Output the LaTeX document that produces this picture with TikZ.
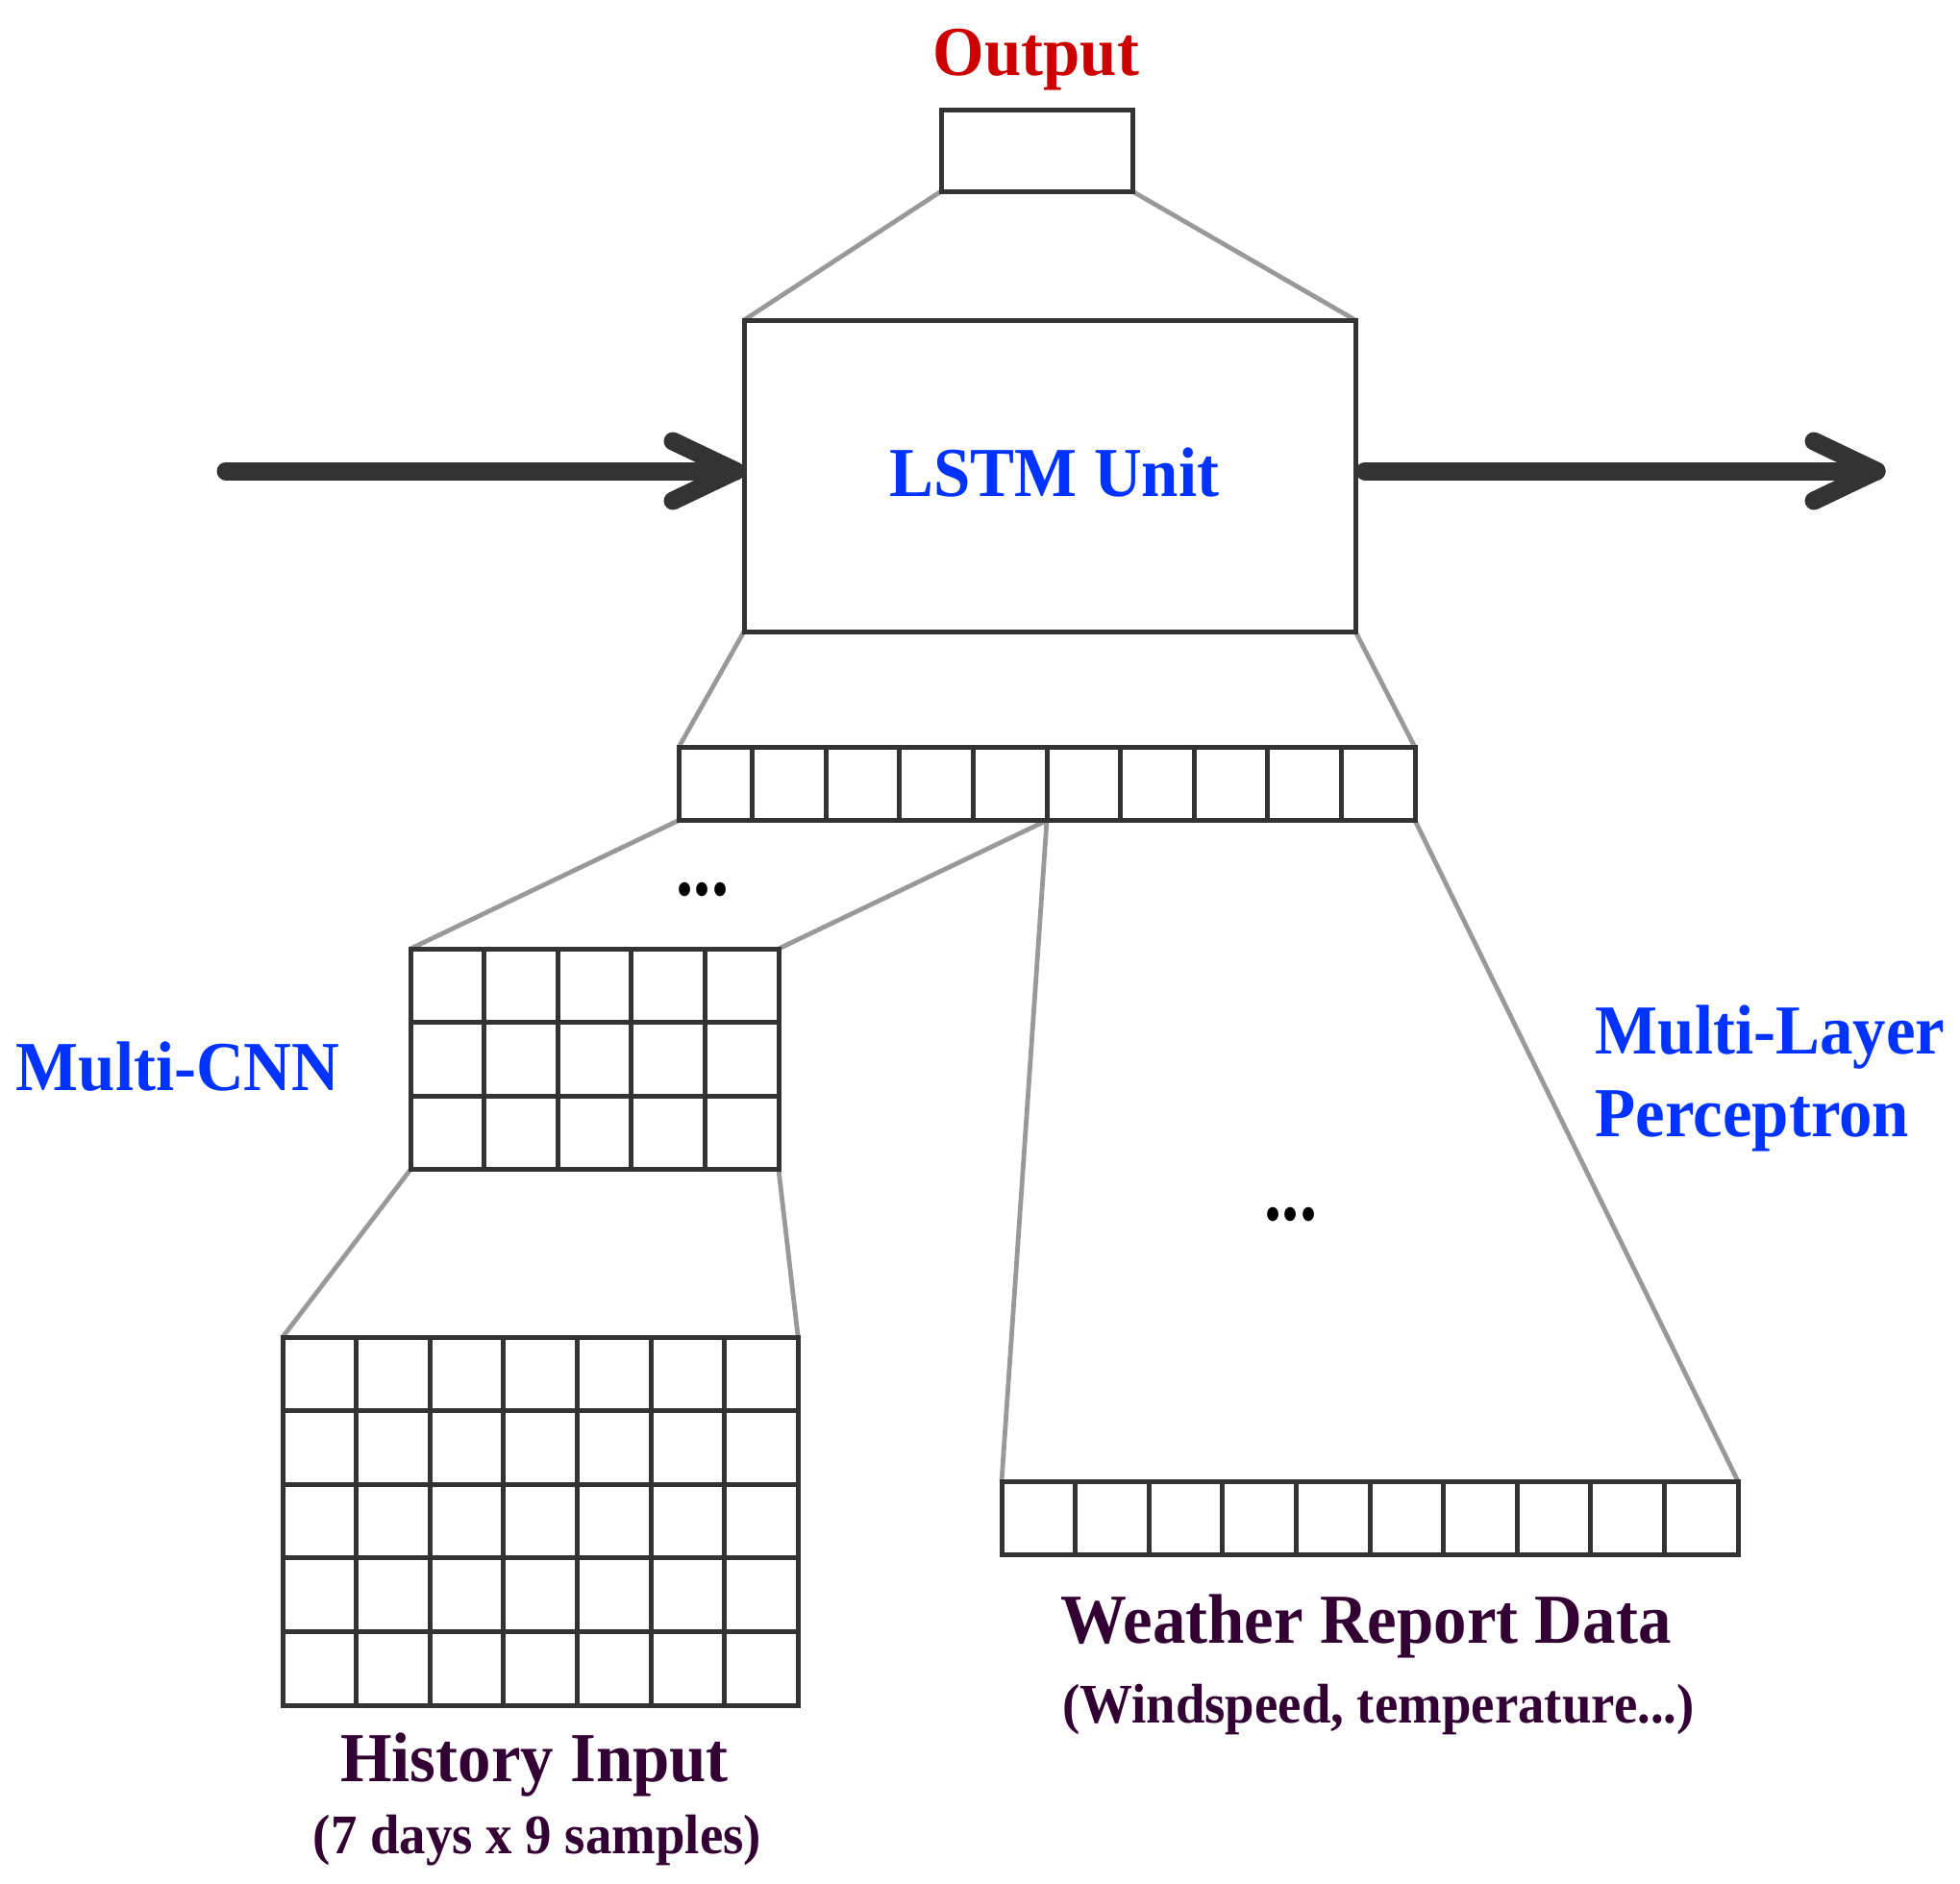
\documentclass[tikz,border=0pt]{standalone}
\usepackage{fontspec}
\setmainfont{Liberation Serif}
\usetikzlibrary{calc}
\definecolor{dk}{HTML}{333333}
\definecolor{gr}{HTML}{999999}
\definecolor{bl}{RGB}{0,51,255}
\definecolor{rd}{RGB}{204,0,0}
\definecolor{pu}{RGB}{51,0,51}
\begin{document}
\begin{tikzpicture}[x=1cm,y=1cm,
  boxline/.style={draw=dk,line width=0.05cm},
  boxnode/.style={boxline,rectangle,inner sep=0pt,outer sep=0pt},
  link/.style={draw=gr,line width=0.048cm},
  big/.style={font=\fontsize{19.6pt}{23pt}\selectfont\bfseries},
  small/.style={font=\fontsize{15.6pt}{18pt}\selectfont\bfseries},
  thickarrow/.style={draw=dk,line width=0.19cm,line cap=round,line join=round}]
\useasboundingbox (0,0) rectangle (20.39,-19.59);
\def\c{0.766}
% boxes (nodes)
\node[boxnode,minimum width=1.99cm,minimum height=0.85cm] (out) at (10.785,-1.565) {};
\node[boxnode,minimum width=6.36cm,minimum height=3.24cm] (lstm) at (10.92,-4.95) {};
\node[boxnode,minimum width=7.66cm,minimum height=0.76cm] (mid) at (10.89,-8.155) {};
\node[boxnode,minimum width=3.83cm,minimum height=2.298cm] (cnn) at (6.185,-11.019) {};
\node[boxnode,minimum width=5.362cm,minimum height=3.83cm] (hist) at (5.621,-15.825) {};
\node[boxnode,minimum width=7.66cm,minimum height=0.766cm] (wthr) at (14.25,-15.793) {};
% links
\draw[link] (out.south west) -- (lstm.north west);
\draw[link] (out.south east) -- (lstm.north east);
\draw[link] (lstm.south west) -- (mid.north west);
\draw[link] (lstm.south east) -- (mid.north east);
\draw[link] (mid.south west) -- (cnn.north west);
\draw[link] (mid.south) -- (cnn.north east);
\draw[link] (mid.south) -- (wthr.north west);
\draw[link] (mid.south east) -- (wthr.north east);
\draw[link] (cnn.south west) -- (hist.north west);
\draw[link] (cnn.south east) -- (hist.north east);
% redraw boxes on top of links
\foreach \n in {out,lstm,mid,cnn,hist,wthr}
  \draw[boxline] (\n.south west) rectangle (\n.north east);
% inner grid lines
\foreach \i in {1,...,9} {
  \draw[boxline] ($(mid.north west)+(\i*\c,0)$) -- ($(mid.south west)+(\i*\c,0)$);
  \draw[boxline] ($(wthr.north west)+(\i*\c,0)$) -- ($(wthr.south west)+(\i*\c,0)$);
}
\foreach \i in {1,...,4}
  \draw[boxline] ($(cnn.north west)+(\i*\c,0)$) -- ($(cnn.south west)+(\i*\c,0)$);
\foreach \j in {1,2}
  \draw[boxline] ($(cnn.north west)+(0,-\j*\c)$) -- ($(cnn.north east)+(0,-\j*\c)$);
\foreach \i in {1,...,6}
  \draw[boxline] ($(hist.north west)+(\i*\c,0)$) -- ($(hist.south west)+(\i*\c,0)$);
\foreach \j in {1,...,4}
  \draw[boxline] ($(hist.north west)+(0,-\j*\c)$) -- ($(hist.north east)+(0,-\j*\c)$);
% arrows
\coordinate (ls) at (2.35,-4.90);
\coordinate (lt) at ($(lstm.west|-ls)+(-0.09,0)$);
\draw[thickarrow] (ls) -- (lt);
\draw[thickarrow] ($(lt)+(-0.65,0.31)$) -- (lt) -- ($(lt)+(-0.65,-0.31)$);
\coordinate (rs) at ($(lstm.east|-ls)+(0.1,0)$);
\coordinate (rt) at (19.52,-4.90);
\draw[thickarrow] (rs) -- (rt);
\draw[thickarrow] ($(rt)+(-0.65,0.31)$) -- (rt) -- ($(rt)+(-0.65,-0.31)$);
% labels
\node[big,text=rd,anchor=base] (outlbl) at (10.78,-0.78) {\scalebox{1}[1.06]{Output}};
\node[big,text=bl,anchor=base] (lstmlbl) at (10.97,-5.16) {\scalebox{1}[1.06]{LSTM Unit}};
\node[big,text=bl,anchor=base west,inner sep=0pt] (cnnlbl) at (0.16,-11.34) {\scalebox{1}[1.06]{Multi-CNN}};
\node[big,text=bl,anchor=base west,inner sep=0pt] (mlp1) at (16.59,-10.96) {\scalebox{1}[1.06]{Multi-Layer}};
\node[big,text=bl,anchor=base west,inner sep=0pt] (mlp2) at (16.59,-11.82) {\scalebox{1}[1.06]{Perceptron}};
\node[big,text=pu,anchor=base] (wlbl) at (14.21,-17.09) {\scalebox{1}[1.06]{Weather Report Data}};
\node[small,text=pu,anchor=base] (wsub) at (14.34,-17.92) {\scalebox{1}[1.06]{(Windspeed, temperature...)}};
\node[big,text=pu,anchor=base] (hlbl) at (5.56,-18.53) {\scalebox{1}[1.06]{History Input}};
\node[small,text=pu,anchor=base] (hsub) at (5.59,-19.28) {\scalebox{1}[1.06]{(7 days x 9 samples)}};
\node[big,anchor=center] (dots1) at (7.31,-9.25) {\scalebox{1.05}[1.3]{...}};
\node[big,anchor=center] (dots2) at (13.43,-12.63) {\scalebox{1.05}[1.3]{...}};
\end{tikzpicture}
\end{document}
